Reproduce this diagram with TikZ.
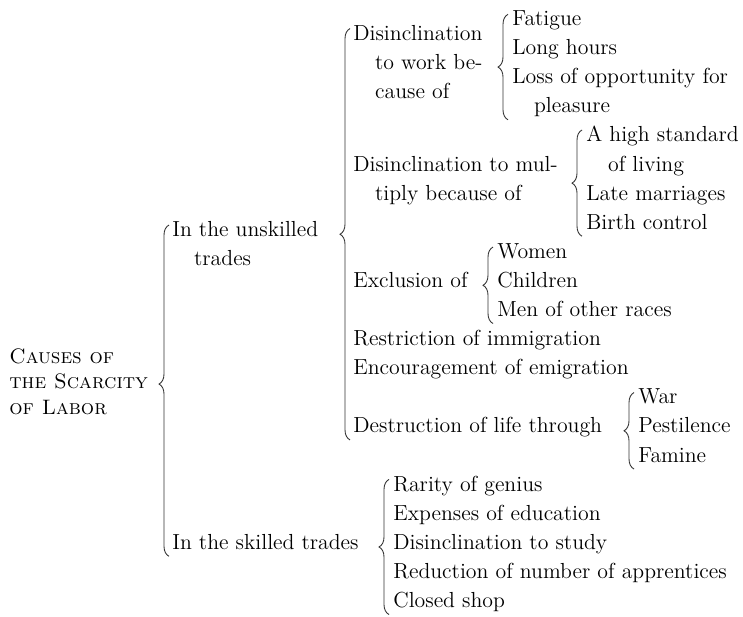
\documentclass[tikz,border=0pt]{standalone}
\usetikzlibrary{decorations.pathreplacing}

\begin{document}
\begin{tikzpicture}[x=0.02cm, y=-0.02cm,
	every node/.style={anchor=base west, inner sep=0pt, align=left, font=\fontsize{12.4}{16.56}\selectfont},
	brc/.style={decorate, decoration={brace, amplitude=0.2cm, aspect=#1}, line width=0.5pt, draw=black!80},
	brc/.default=0.5]
	\path[use as bounding box, fill=white] (0,0) rectangle (743,616);
	% root (multi-line nodes sit on their last baseline)
	\node[font=\fontsize{11.9}{14.5}\selectfont] (causes) at (9,414) {\textsc{Causes of}\\\textsc{the Scarcity}\\\textsc{of Labor}};
	% first split
	\node (unsk) at (172,265.6) {In the unskilled\\\hspace*{1em}trades};
	\node (skil) at (172,549.3) {In the skilled trades};
	% unskilled trades
	\node (dwork) at (353,98.25) {Disinclination\\\hspace*{1em}to work be-\\\hspace*{1em}cause of};
	\node (dmult) at (353,200.1) {Disinclination to mul-\\\hspace*{1em}tiply because of};
	\node (excl) at (353,287.4) {Exclusion of};
	\node (restr) at (353,345.6) {Restriction of immigration};
	\node (emig) at (353,374.7) {Encouragement of emigration};
	\node (destr) at (353,432.9) {Destruction of life through};
	\node (fat) at (512,25.5) {Fatigue};
	\node (hours) at (512,54.6) {Long hours};
	\node (loss) at (512,112.8) {Loss of opportunity for\\\hspace*{1em}pleasure};
	\node (std) at (586,171.0) {A high standard\\\hspace*{1em}of living};
	\node (late) at (586,200.1) {Late marriages};
	\node (birth) at (586,229.2) {Birth control};
	\node (women) at (497,258.3) {Women};
	\node (child) at (497,287.4) {Children};
	\node (races) at (497,316.5) {Men of other races};
	\node (war) at (638,403.8) {War};
	\node (pest) at (638,432.9) {Pestilence};
	\node (fam) at (638,462.0) {Famine};
	% skilled trades
	\node (rar) at (393,491.1) {Rarity of genius};
	\node (exp) at (393,520.2) {Expenses of education};
	\node (study) at (393,549.3) {Disinclination to study};
	\node (appr) at (393,578.4) {Reduction of number of apprentices};
	\node (shop) at (393,607.5) {Closed shop};
	% braces, drawn bottom to top
	\draw[brc=0.52] ([shift={(-3,7)}]skil.base west) -- ([shift={(-3,4)}]unsk.north west);
	\draw[brc] ([shift={(-3,7)}]destr.base west) -- ([shift={(-3,4)}]dwork.north west);
	\draw[brc] ([shift={(-4,7)}]loss.base west) -- ([shift={(-4,4)}]fat.north west);
	\draw[brc] ([shift={(-4,7)}]birth.base west) -- ([shift={(-4,4)}]std.north west);
	\draw[brc] ([shift={(-4,7)}]races.base west) -- ([shift={(-4,4)}]women.north west);
	\draw[brc] ([shift={(-4,7)}]fam.base west) -- ([shift={(-4,4)}]war.north west);
	\draw[brc] ([shift={(-4,7)}]shop.base west) -- ([shift={(-4,4)}]rar.north west);
\end{tikzpicture}
\end{document}
